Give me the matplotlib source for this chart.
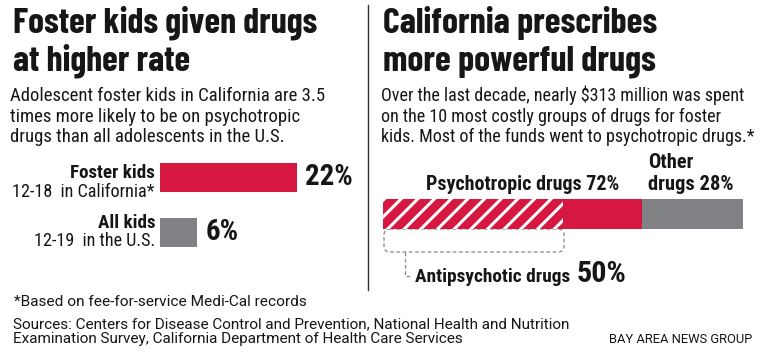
import matplotlib.pyplot as plt
from matplotlib import font_manager
from matplotlib.patches import FancyBboxPatch

# Dados
grupos_esq = ["Foster kids", "All kids"]
sub_esq = ["12-18  in California*", "12-19  in the U.S."]
valores_esq = [22, 6]

partes_dir = ["Antipsychotic drugs", "Psychotropic drugs", "Other drugs"]
valores_dir = [50, 72, 28]

VERMELHO = "#d6173f"
CINZA = "#818285"
PRETO = "#161616"

# Fontes condensadas (usa a primeira disponível com os pesos pedidos)
pesos = {}
for f in font_manager.fontManager.ttflist:
    pesos.setdefault(f.name, set()).add(str(f.weight))


def escolher(opcoes, precisa):
    for nome in opcoes:
        if set(precisa) <= pesos.get(nome, set()):
            return nome
    return "DejaVu Sans"


FONTE = escolher(["Roboto Condensed", "Fira Sans Condensed", "IBM Plex Sans Condensed", "PT Sans Narrow",
                  "Archivo Narrow", "Liberation Sans Narrow"], ["400", "700"])
FONTE_TIT = escolher(["Barlow Condensed", "Roboto Condensed", "Fira Sans Condensed"], ["700"])
FONTES = [FONTE, "DejaVu Sans"]

W, H = 768, 358
fig = plt.figure(figsize=(W / 100, H / 100), dpi=100)
render = fig.canvas.get_renderer()

# Eixo de apoio em pixels (origem no topo) para textos e linhas
ax0 = fig.add_axes([0, 0, 1, 1])
ax0.set_xlim(0, W)
ax0.set_ylim(H, 0)
ax0.axis("off")


def bloco(x, ys, linhas, largura, tam=12, **kw):
    # escreve várias linhas e ajusta o tamanho para a linha mais larga ocupar 'largura' pixels
    kw.setdefault("family", FONTES)
    kw.setdefault("color", PRETO)
    kw.setdefault("va", "baseline")
    ts = [ax0.text(x, y, s, fontsize=tam, **kw) for y, s in zip(ys, linhas)]
    if largura:
        w = max(t.get_window_extent(render).width for t in ts)
        for t in ts:
            t.set_fontsize(tam * largura / w)
    return ts


# Títulos
tit = dict(tam=24, fontweight="bold", family=[FONTE_TIT, "DejaVu Sans"])
bloco(13, [33, 70], ["Foster kids given drugs", "at higher rate"], 303, **tit)
bloco(383, [33, 70], ["California prescribes", "more powerful drugs"], 274, **tit)

# Subtítulos
bloco(10, [101, 122, 142], ["Adolescent foster kids in California are 3.5",
                            "times more likely to be on psychotropic",
                            "drugs than all adolescents in the U.S."], 315, tam=13)
bloco(381, [101, 122, 142], ["Over the last decade, nearly $313 million was spent",
                             "on the 10 most costly groups of drugs for foster",
                             "kids. Most of the funds went to psychotropic drugs.*"], 372, tam=13)

# Linha divisória
ax0.plot([368, 368], [5, 290], color="#333333", lw=1)

# Gráfico esquerdo
ax1 = fig.add_axes([160 / W, 1 - 255 / H, 200 / W, 100 / H])
ax1.barh([0, 1], valores_esq, height=29 / 55, color=[VERMELHO, CINZA])
ax1.set_xlim(0, 22 * 200 / 137)
ax1.set_ylim(-0.409 + 100 / 55, -0.409)
ax1.axis("off")

tam_valor = None
for i, v in enumerate(valores_esq):
    t = ax1.annotate(f"{v}%", (v, i), xytext=(8, 0), textcoords="offset pixels", ha="left",
                     va="center", fontsize=20, fontweight="bold", family=FONTES, color=PRETO)
    if tam_valor is None:
        tam_valor = 20 * 48 / t.get_window_extent(render).width
    t.set_fontsize(tam_valor)

# Rótulos das categorias
tam_sub = bloco(155, [197], [sub_esq[0]], 142, tam=13, ha="right")[0].get_fontsize()
bloco(155, [246], [sub_esq[1]], None, tam=tam_sub, ha="right")
tam_nome = bloco(155, [178], [grupos_esq[0]], 84, tam=13, fontweight="bold", ha="right")[0].get_fontsize()
bloco(155, [228], [grupos_esq[1]], None, tam=tam_nome, fontweight="bold", ha="right")

# Gráfico direito
ax2 = fig.add_axes([383 / W, 1 - 229 / H, 360 / W, 30 / H])
plt.rcParams["hatch.linewidth"] = 2.2
ax2.barh(0, valores_dir[1], height=1, color=VERMELHO, lw=0)
ax2.barh(0, valores_dir[2], left=valores_dir[1], height=1, color=CINZA, lw=0)
ax2.barh(0, valores_dir[0], height=1, color=VERMELHO, hatch="//", edgecolor="white", lw=0)
ax2.set_xlim(0, 100)
ax2.set_ylim(-0.5, 0.5)
ax2.axis("off")


def xpx(v):
    # posição em pixels de um valor percentual na barra da direita
    return 383 + 360 * v / 100


bloco(xpx(valores_dir[1]) - 23, [190], [f"{partes_dir[1]} {valores_dir[1]}%"], 192, tam=13,
      fontweight="bold", ha="right")
bloco(xpx(valores_dir[1]) + 6, [168, 190], ["Other", f"drugs {valores_dir[2]}%"], 85, tam=13,
      fontweight="bold")

# Colchete tracejado
caixa = FancyBboxPatch((xpx(0) + 1, 229), xpx(valores_dir[0]) - xpx(0), 23,
                       boxstyle="round,pad=0,rounding_size=6", fill=False,
                       ls=(0, (3, 2)), lw=0.9, ec="#8a8a8a")
ax0.add_patch(caixa)
ax0.plot([405, 405, 412], [252, 276, 276], ls=(0, (3, 2)), lw=0.9, color="#8a8a8a")
bloco(415, [282], [partes_dir[0]], 155, tam=13, fontweight="bold")
bloco(577, [282], [f"{valores_dir[0]}%"], 50, tam=20, fontweight="bold")

# Rodapé
rod = ["Roboto", "DejaVu Sans"]
bloco(14, [306], ["*Based on fee-for-service Medi-Cal records"], 291, tam=11, family=rod)
bloco(13, [328, 343], ["Sources: Centers for Disease Control and Prevention, National Health and Nutrition",
                       "Examination Survey, California Department of Health Care Services"], 555, tam=11,
      family=rod)
bloco(752, [343], ["BAY AREA NEWS GROUP"], 144, tam=9.5, ha="right", family=rod)

fig.savefig("out.png", dpi=100)
